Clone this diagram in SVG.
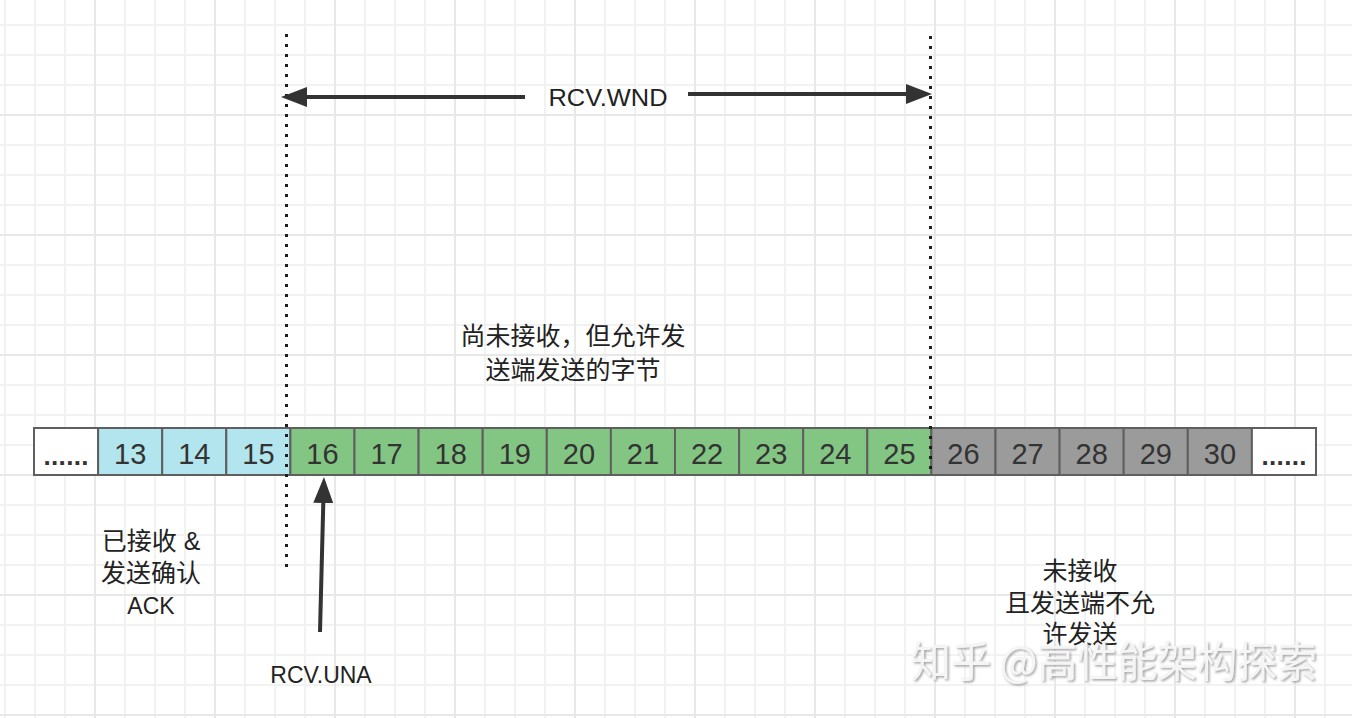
<svg xmlns="http://www.w3.org/2000/svg" width="1352" height="718" viewBox="0 0 1352 718">
<style>
.cell{stroke:#5f5f5f;stroke-width:2}
.c-blank{fill:#ffffff}
.c-ack{fill:#b2e5ed}
.c-win{fill:#83c683}
.c-out{fill:#9b9b9b}
.num{font-family:"Liberation Sans",Arial,sans-serif;font-size:29px;fill:#333;text-anchor:middle}
.ell{font-family:"Liberation Sans",Arial,sans-serif;font-size:26px;font-weight:bold;fill:#333;text-anchor:middle}
.lbl{font-family:"Liberation Sans","Noto Sans CJK SC",sans-serif;font-size:25px;fill:#222;text-anchor:middle}
.en{font-family:"Liberation Sans",Arial,sans-serif;font-size:23px;fill:#222;text-anchor:middle}
.dot{stroke:#1e1e1e;stroke-width:3;stroke-dasharray:3 7;fill:none}
.arr{stroke:#333;stroke-width:4;fill:none;marker-end:url(#ah)}
.wm{font-family:"Noto Sans CJK SC",sans-serif;font-size:42px;fill:#f5f5f5;filter:url(#sh)}
</style>
<defs>
<pattern id="grid" patternUnits="userSpaceOnUse" x="-25" y="-5" width="120" height="120">
<rect x="0" y="0" width="120" height="120" fill="#ffffff"/>
<g fill="#f2f2f2">
<rect x="29" y="0" width="2" height="120"/>
<rect x="59" y="0" width="2" height="120"/>
<rect x="89" y="0" width="2" height="120"/>
<rect x="0" y="29" width="120" height="2"/>
<rect x="0" y="59" width="120" height="2"/>
<rect x="0" y="89" width="120" height="2"/>
</g>
<g fill="#e8e8e8">
<rect x="-1" y="0" width="2" height="120"/>
<rect x="119" y="0" width="2" height="120"/>
<rect x="0" y="-1" width="120" height="2"/>
<rect x="0" y="119" width="120" height="2"/>
</g>
</pattern>
<marker id="ah" markerUnits="userSpaceOnUse" viewBox="0 0 26 20" refX="16" refY="10" markerWidth="26" markerHeight="20" orient="auto">
<path d="M0,0 L26,10 L0,20 Z" fill="#333"/>
</marker>
<filter id="sh" x="-5%" y="-20%" width="110%" height="140%">
<feDropShadow dx="1.5" dy="1.5" stdDeviation="0.8" flood-color="#8a8a8a" flood-opacity="0.8"/>
</filter>
</defs>
<rect x="0" y="0" width="1352" height="718" fill="url(#grid)"/>

<g id="cells">
<g id="cell-dots-left"><rect class="cell c-blank" x="34" y="428" width="64.1" height="47"/><text class="ell" x="66" y="465" textLength="45" lengthAdjust="spacing">......</text></g>
<g id="cell-13"><rect class="cell c-ack" x="98.1" y="428" width="64.1" height="47"/><text class="num" x="130.2" y="464">13</text></g>
<g id="cell-14"><rect class="cell c-ack" x="162.2" y="428" width="64.1" height="47"/><text class="num" x="194.3" y="464">14</text></g>
<g id="cell-15"><rect class="cell c-ack" x="226.3" y="428" width="64.1" height="47"/><text class="num" x="258.4" y="464">15</text></g>
<g id="cell-16"><rect class="cell c-win" x="290.4" y="428" width="64.1" height="47"/><text class="num" x="322.5" y="464">16</text></g>
<g id="cell-17"><rect class="cell c-win" x="354.5" y="428" width="64.1" height="47"/><text class="num" x="386.6" y="464">17</text></g>
<g id="cell-18"><rect class="cell c-win" x="418.6" y="428" width="64.1" height="47"/><text class="num" x="450.7" y="464">18</text></g>
<g id="cell-19"><rect class="cell c-win" x="482.7" y="428" width="64.1" height="47"/><text class="num" x="514.8" y="464">19</text></g>
<g id="cell-20"><rect class="cell c-win" x="546.8" y="428" width="64.1" height="47"/><text class="num" x="578.9" y="464">20</text></g>
<g id="cell-21"><rect class="cell c-win" x="610.9" y="428" width="64.1" height="47"/><text class="num" x="643" y="464">21</text></g>
<g id="cell-22"><rect class="cell c-win" x="675" y="428" width="64.1" height="47"/><text class="num" x="707.1" y="464">22</text></g>
<g id="cell-23"><rect class="cell c-win" x="739.1" y="428" width="64.1" height="47"/><text class="num" x="771.2" y="464">23</text></g>
<g id="cell-24"><rect class="cell c-win" x="803.2" y="428" width="64.1" height="47"/><text class="num" x="835.3" y="464">24</text></g>
<g id="cell-25"><rect class="cell c-win" x="867.3" y="428" width="64.1" height="47"/><text class="num" x="899.4" y="464">25</text></g>
<g id="cell-26"><rect class="cell c-out" x="931.4" y="428" width="64.1" height="47"/><text class="num" x="963.5" y="464">26</text></g>
<g id="cell-27"><rect class="cell c-out" x="995.5" y="428" width="64.1" height="47"/><text class="num" x="1027.6" y="464">27</text></g>
<g id="cell-28"><rect class="cell c-out" x="1059.6" y="428" width="64.1" height="47"/><text class="num" x="1091.7" y="464">28</text></g>
<g id="cell-29"><rect class="cell c-out" x="1123.7" y="428" width="64.1" height="47"/><text class="num" x="1155.8" y="464">29</text></g>
<g id="cell-30"><rect class="cell c-out" x="1187.8" y="428" width="64.1" height="47"/><text class="num" x="1219.9" y="464">30</text></g>
<g id="cell-dots-right"><rect class="cell c-blank" x="1251.9" y="428" width="64.1" height="47"/><text class="ell" x="1284" y="465" textLength="45" lengthAdjust="spacing">......</text></g>
</g>

<g id="connectors">
<line class="dot" x1="286.5" y1="34" x2="286.5" y2="572"/>
<line class="dot" x1="930.5" y1="36" x2="930.5" y2="476"/>
<line class="arr" x1="525" y1="97" x2="291" y2="97"/>
<line class="arr" x1="688" y1="94" x2="922" y2="94"/>
<line class="arr" x1="320" y1="632" x2="323.7" y2="487"/>
</g>

<g id="label-wnd"><text class="en" x="608" y="106" style="font-size:24px" textLength="119" lengthAdjust="spacingAndGlyphs">RCV.WND</text></g>
<g id="label-una"><text class="en" x="321" y="683">RCV.UNA</text></g>
<g id="label-window">
<text class="lbl" x="573" y="345">尚未接收，但允许发</text>
<text class="lbl" x="573" y="379">送端发送的字节</text>
</g>
<g id="label-acked">
<text class="lbl" x="151" y="550">已接收 &amp;</text>
<text class="lbl" x="151" y="582">发送确认</text>
<text class="en" x="151" y="614">ACK</text>
</g>
<g id="label-notallowed">
<text class="lbl" x="1080" y="580">未接收</text>
<text class="lbl" x="1080" y="612">且发送端不允</text>
<text class="lbl" x="1080" y="643">许发送</text>
</g>
<g id="watermark"><text class="wm" x="911" y="677" textLength="406" lengthAdjust="spacingAndGlyphs">知乎 @高性能架构探索</text></g>
</svg>
